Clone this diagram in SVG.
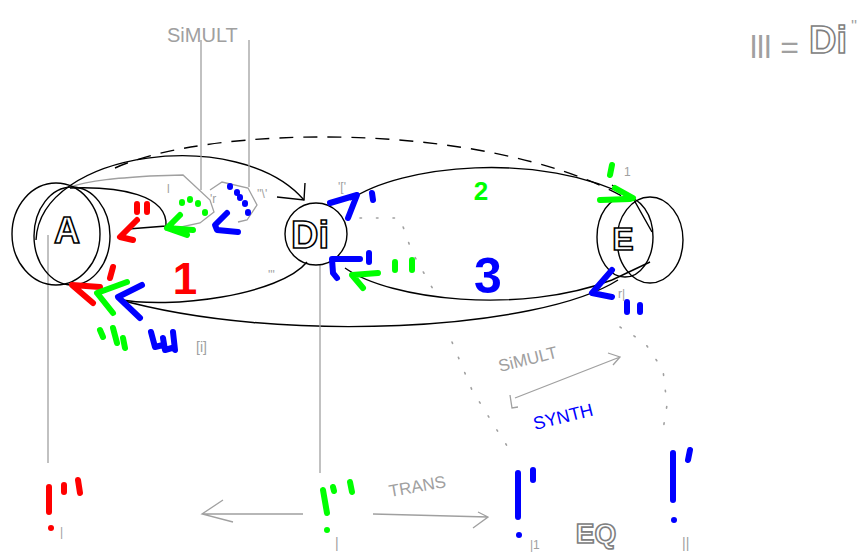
<svg xmlns="http://www.w3.org/2000/svg" width="860" height="553" viewBox="0 0 860 553">
<style>
.k{stroke:#000;fill:none;stroke-width:1.4}
.g{stroke:#a0a0a0;fill:none;stroke-width:1.3}
.d{stroke:#a0a0a0;fill:none;stroke-width:1.6;stroke-dasharray:1.5 15;stroke-linecap:round}
.r{stroke:#ff0000;fill:none;stroke-width:6;stroke-linecap:round;stroke-linejoin:round}
.n{stroke:#00ff00;fill:none;stroke-width:6;stroke-linecap:round;stroke-linejoin:round}
.b{stroke:#0000ff;fill:none;stroke-width:6;stroke-linecap:round;stroke-linejoin:round}
.lbl{font-family:"Liberation Sans",Arial,sans-serif;font-weight:bold;fill:#fff;stroke:#000;stroke-width:1.6;text-anchor:middle}
.hw{font-family:"Liberation Sans",Arial,sans-serif;fill:#a0a0a0}
.num{font-family:"Liberation Sans",Arial,sans-serif;font-weight:bold;text-anchor:middle}
</style>
<rect width="860" height="553" fill="#fff"/>

<g id="connectors">
  <path class="k" d="M36 240 C40 150 240 125 304 200"/>
  <path class="k" d="M277 197 L304 200 L305 183"/>
  <path class="k" d="M70 188 C120 186 168 195 166 226 L128 229"/>
  <path class="k" d="M307 262 C280 295 170 310 117 299"/>
  <path class="k" d="M618 280 C540 330 280 345 117 299"/>
  <path class="k" d="M350 200 C400 165 540 150 632 198"/>
  <path class="k" d="M612 185 L634 200 L652 232"/>
  <path class="k" d="M345 268 C390 300 520 315 612 280"/>
  <path class="k" d="M612 280 L650 262"/>
  <path class="k" stroke-dasharray="14 10" d="M115 168 C210 125 480 120 622 196"/>
  <path class="g" d="M70 187 C90 180 120 178 150 176 L183 175 L210 200 L214 212 L200 223 L167 230"/>
  <path class="g" d="M210 190 L222 182 L248 188 L257 205 L247 220 L238 222"/>
  <line class="g" x1="201" y1="40" x2="201" y2="190"/>
  <line class="g" x1="249" y1="40" x2="249" y2="187"/>
  <line class="g" x1="48" y1="235" x2="48" y2="463"/>
  <line class="g" x1="320" y1="265" x2="320" y2="473"/>
  <path class="g" d="M303 514 L202 514 M223 500 L202 514 L233 522"/>
  <path class="g" d="M373 514 L488 517 M473 528 L488 517 L478 512"/>
  <path class="g" d="M510 395 L512 408 L518 407 M515 398 L620 357 M608 353 L620 357 L613 365"/>
  <path class="d" d="M452 342 L472 390 L500 435 L513 455"/>
  <path class="d" d="M620 327 L645 343 L663 370 L667 405 L663 430"/>
  <path class="d" d="M360 218 L400 218 L412 252 L438 298"/>
</g>

<g id="node-A">
  <ellipse class="k" cx="56" cy="234" rx="44" ry="51"/>
  <ellipse class="k" cx="72" cy="236" rx="38" ry="49"/>
  <text class="lbl" x="67" y="243" font-size="36">A</text>
</g>
<g id="node-Di">
  <circle class="k" cx="316" cy="234" r="31"/>
  <text class="lbl" x="310" y="248" font-size="38">Di</text>
</g>
<g id="node-E">
  <ellipse class="k" cx="625" cy="237" rx="28" ry="40"/>
  <ellipse class="k" cx="650" cy="240" rx="33" ry="43"/>
  <text class="lbl" x="623" y="250" font-size="32">E</text>
</g>

<g id="arrow-marks">
  <path class="r" d="M137 220 L120 237 L133 240"/>
  <path class="r" d="M137 204 L137 212 M147 204 L147 212"/>
  <path class="n" d="M180 215 L167 228 L187 235 M167 228 L193 230"/>
  <path class="n" d="M182 202 L182 203 M190 199 L190 200 M198 203 L198 204 M205 212 L205 213"/>
  <path class="b" d="M227 213 L215 225 L217 230 L238 232"/>
  <path class="b" d="M230 186 L230 187 M237 192 L237 193 M240 197 L240 198 M245 203 L245 204 M248 212 L248 213"/>
  <path class="r" d="M100 287 L72 285 L93 303"/>
  <path class="r" d="M113 267 L110 278"/>
  <path class="n" d="M127 282 L97 293 L113 313"/>
  <path class="b" d="M142 285 L118 297 L140 318"/>
  <path class="n" d="M100 330 L103 337 M113 328 L117 343 M123 338 L125 348"/>
  <path class="b" d="M151 332 L155 347 L163 345 M163 338 L165 350 L172 348 M173 332 L175 350"/>
  <path class="b" d="M330 203 L357 195 L348 218"/>
  <path class="b" d="M372 193 L373 200"/>
  <path class="b" d="M360 259 L332 259 L333 273 L337 278"/>
  <path class="b" d="M369 253 L369 262"/>
  <path class="n" d="M378 273 L352 275 L363 288"/>
  <path class="n" d="M395 262 L395 270 M412 260 L412 270"/>
  <path class="n" d="M600 200 L630 199 M615 188 L633 198"/>
  <path class="n" d="M612 165 L610 175"/>
  <path class="b" d="M612 270 L592 293 L612 297"/>
  <path class="b" d="M627 302 L627 312 M640 305 L640 312"/>
  <path class="r" d="M49 487 L49 512 M64 485 L64 492 M78 480 L80 493"/>
  <circle cx="51" cy="528" r="3" fill="#ff0000"/>
  <path class="n" d="M323 490 L327 513 M333 487 L334 491 M350 482 L352 492"/>
  <circle cx="327" cy="530" r="3" fill="#00ff00"/>
  <path class="b" d="M518 473 L518 517 M533 470 L533 480"/>
  <circle cx="519" cy="535" r="3" fill="#0000ff"/>
  <path class="b" d="M673 453 L673 500 M690 450 L688 460"/>
  <circle cx="674" cy="520" r="3" fill="#0000ff"/>
</g>

<g id="labels">
  <text class="num" x="185" y="294" font-size="44" fill="#ff0000">1</text>
  <text class="num" x="481" y="200" font-size="26" fill="#00ff00">2</text>
  <text class="num" x="488" y="293" font-size="50" fill="#0000ff">3</text>
  <text class="hw" x="167" y="42" font-size="20">SiMULT</text>
  <text class="hw" x="500" y="372" font-size="17" transform="rotate(-14 500 372)">SiMULT</text>
  <text x="535" y="430" font-size="18" fill="#0000ff" font-family="Liberation Sans,Arial,sans-serif" transform="rotate(-14 535 430)">SYNTH</text>
  <text class="hw" x="390" y="497" font-size="17" transform="rotate(-10 390 497)">TRANS</text>
  <text x="596" y="543" font-size="28" class="lbl" style="stroke:#808080">EQ</text>
  <text class="hw" x="750" y="58" font-size="32" style="font-weight:300">lll =</text>
  <text x="828" y="53" font-size="38" class="lbl" style="stroke:#808080">Di</text>
  <text class="hw" x="851" y="32" font-size="16">''</text>
  <text class="hw" x="167" y="193" font-size="12">l</text>
  <text class="hw" x="210" y="203" font-size="12">'r</text>
  <text class="hw" x="257" y="198" font-size="12">''\'</text>
  <text class="hw" x="338" y="191" font-size="12">'['</text>
  <text class="hw" x="268" y="279" font-size="12">'''</text>
  <text class="hw" x="196" y="352" font-size="14">[i]</text>
  <text class="hw" x="624" y="176" font-size="12">1</text>
  <text class="hw" x="618" y="298" font-size="12">r|</text>
  <text class="hw" x="60" y="536" font-size="12">|</text>
  <text class="hw" x="335" y="548" font-size="14">|</text>
  <text class="hw" x="530" y="549" font-size="12">|1</text>
  <text class="hw" x="682" y="548" font-size="14">||</text>
</g>
</svg>
